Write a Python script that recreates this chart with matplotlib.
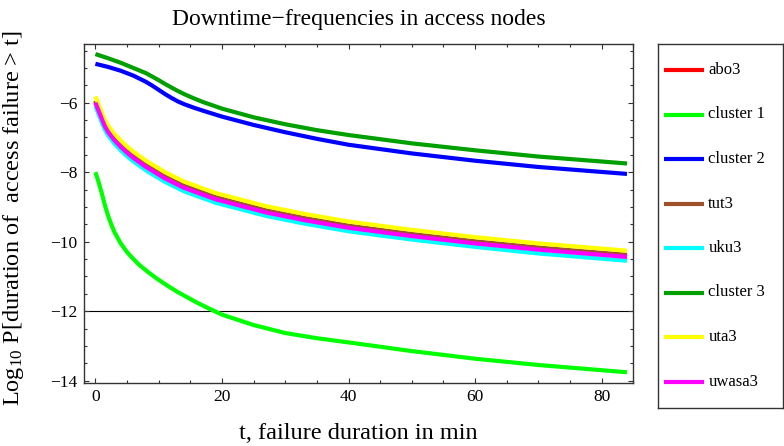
import matplotlib
matplotlib.use("Agg")
import matplotlib.pyplot as plt
from matplotlib.ticker import MultipleLocator

plt.rcParams['font.family'] = ['Liberation Serif', 'DejaVu Serif']
plt.rcParams['mathtext.fontset'] = 'custom'
plt.rcParams['mathtext.rm'] = 'Liberation Serif'
plt.rcParams['mathtext.it'] = 'Liberation Serif:italic'

# ---- data ----
names = ["abo3", "cluster 1", "cluster 2", "tut3", "uku3", "cluster 3", "uta3", "uwasa3"]
colors = ["#FF0000", "#00FF00", "#0000FF", "#A0522D", "#00FFFF", "#00A000", "#FFFF00", "#FF00FF"]

t_fast = [0, 0.5, 1, 1.5, 2, 3, 4, 5, 6, 8, 11, 14, 19, 27, 33, 40, 50, 60, 70, 84]
uta3 = [-5.82, -6.05, -6.28, -6.50, -6.66, -6.90, -7.09, -7.26, -7.41, -7.67, -8.00, -8.27,
        -8.60, -8.98, -9.20, -9.42, -9.66, -9.87, -10.05, -10.26]
tut3 = [-5.94, -6.17, -6.40, -6.62, -6.78, -7.02, -7.21, -7.38, -7.53, -7.79, -8.12, -8.39,
        -8.72, -9.10, -9.32, -9.54, -9.78, -9.99, -10.17, -10.38]
abo3 = [-5.97, -6.20, -6.43, -6.65, -6.81, -7.05, -7.24, -7.41, -7.56, -7.82, -8.15, -8.42,
        -8.75, -9.13, -9.35, -9.57, -9.81, -10.02, -10.20, -10.41]
uwasa3 = [-6.00, -6.23, -6.46, -6.68, -6.84, -7.08, -7.27, -7.44, -7.59, -7.85, -8.18, -8.45,
          -8.78, -9.16, -9.38, -9.60, -9.84, -10.05, -10.23, -10.44]
uku3 = [-6.10, -6.33, -6.56, -6.78, -6.94, -7.18, -7.37, -7.54, -7.69, -7.95, -8.28, -8.55,
        -8.88, -9.26, -9.48, -9.70, -9.94, -10.15, -10.34, -10.55]

t_c1 = [0, 0.5, 1, 1.5, 2, 2.5, 3, 4, 5, 6, 7, 8.5, 10, 11.5, 13, 14.5, 16, 18, 20, 25, 30,
        35, 40, 50, 60, 70, 84]
cluster1 = [-8.0, -8.28, -8.6, -8.95, -9.25, -9.5, -9.72, -10.05, -10.3, -10.5, -10.68,
            -10.9, -11.1, -11.28, -11.45, -11.6, -11.75, -11.93, -12.1, -12.4, -12.63,
            -12.78, -12.9, -13.15, -13.37, -13.55, -13.76]

t_c = [0, 2, 4, 6, 8, 9, 10, 11, 12, 13, 14, 15.5, 17, 20, 25, 30, 35, 40, 50, 60, 70, 84]
cluster3 = [-4.60, -4.72, -4.85, -5.00, -5.15, -5.25, -5.35, -5.46, -5.56, -5.66, -5.75,
            -5.87, -5.98, -6.17, -6.42, -6.62, -6.79, -6.93, -7.17, -7.37, -7.55, -7.75]
cluster2 = [-4.88, -4.97, -5.08, -5.22, -5.40, -5.51, -5.63, -5.75, -5.86, -5.96, -6.04,
            -6.14, -6.23, -6.40, -6.64, -6.85, -7.04, -7.21, -7.46, -7.67, -7.85, -8.05]

series = [(t_fast, abo3), (t_c1, cluster1), (t_c, cluster2), (t_fast, tut3),
          (t_fast, uku3), (t_c, cluster3), (t_fast, uta3), (t_fast, uwasa3)]

xticks = [0, 20, 40, 60, 80]
yticks = [-14, -12, -10, -8, -6]
ref_level = -12

W, H = 784, 446
LW = 3.0

# ---- figure ----
fig = plt.figure(figsize=(W / 100, H / 100), dpi=100)
ax = fig.add_axes([84 / W, 1 - 382.7 / H, (633.3 - 84) / W, (382.7 - 44) / H])

for (x, y), c in zip(series, colors):
    ax.plot(x, y, color=c, lw=LW, solid_capstyle='butt', solid_joinstyle='round')

ax.axhline(ref_level, color='black', lw=0.8, zorder=0)

ax.set_xlim(-1.8, 85)
ax.set_ylim(-14.06, -4.31)
ax.set_xticks(xticks)
ax.set_yticks(yticks)
ax.set_xticklabels([str(v) for v in xticks])
ax.set_yticklabels([("\u2212" + str(-v)) if v < 0 else str(v) for v in yticks])
ax.xaxis.set_minor_locator(MultipleLocator(5))
ax.yaxis.set_minor_locator(MultipleLocator(0.5))
ax.tick_params(which='both', direction='in', top=True, right=True, labelsize=12.5,
               color='#333333', width=0.8)
ax.tick_params(which='major', length=3.8, pad=4.8)
ax.tick_params(which='minor', length=2.5)
for s in ax.spines.values():
    s.set_color('#333333')
    s.set_linewidth(1.0)

fig.text(358.5 / W, 1 - 24.5 / H, "Downtime\u2212frequencies in access nodes",
         ha='center', va='baseline', fontsize=17)
fig.text(358.5 / W, 1 - 439 / H, "t, failure duration in min",
         ha='center', va='baseline', fontsize=17.5)
fig.text(14 / W, 1 - 218 / H, "Log$_{10}$ P[duration of  access failure > t]",
         ha='center', va='center', rotation=90, fontsize=17.5)

# ---- legend (framed box with handle + label rows) ----
lx0, lx1, ly0, ly1 = 657.7, 783.0, 44.3, 408.3
lax = fig.add_axes([lx0 / W, 1 - ly1 / H, (lx1 - lx0) / W, (ly1 - ly0) / H])
lax.set_xlim(lx0, lx1)
lax.set_ylim(ly1, ly0)
lax.set_xticks([])
lax.set_yticks([])
for s in lax.spines.values():
    s.set_color('#333333')
    s.set_linewidth(1.0)
row0, row_step = 70.0, 44.5
for i, (nm, c) in enumerate(zip(names, colors)):
    yy = row0 + row_step * i
    lax.plot([664, 704.3], [yy, yy], color=c, lw=LW, solid_capstyle='butt')
    lax.text(708.3, yy, nm, ha='left', va='center', fontsize=12)

fig.savefig("out.png", dpi=100)
